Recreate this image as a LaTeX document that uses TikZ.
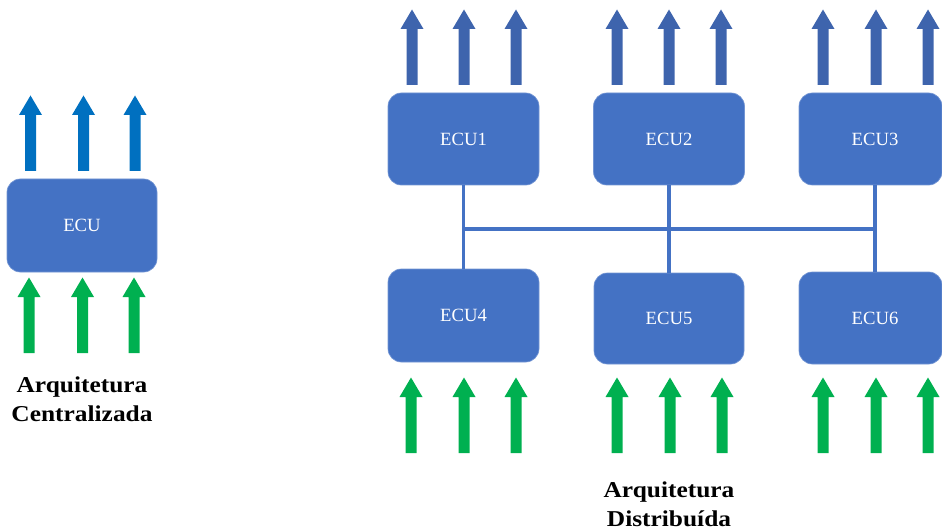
\documentclass[tikz,border=0pt]{standalone}
\usepackage{fontspec}
\setmainfont{Liberation Serif}
\newfontfamily\captionfont{Liberation Serif}[FakeStretch=1.12]
\usetikzlibrary{calc}

\definecolor{ecufill}{HTML}{4472C4}
\definecolor{outblue}{HTML}{0070C0}
\definecolor{outdark}{HTML}{3E64AD}
\definecolor{ingreen}{HTML}{00B050}

\tikzset{
  ecubox/.style={rectangle, rounded corners=10pt, fill=ecufill,
    draw=ecufill!75!white, line width=0.5pt, text=white, inner sep=0pt,
    font=\fontsize{14pt}{16pt}\selectfont},
  bus/.style={draw=ecufill, line width=2.5pt},
  caption/.style={align=center, font=\captionfont\bfseries\fontsize{17pt}{21.4pt}\selectfont},
  % block arrow: origin at the foot of the shaft, pointing up
  blockarrow/.pic={
    \fill[pic actions] (-5.5,0) -- (-5.5,-56) -- (-11.5,-56) -- (0,-75.5)
      -- (11.5,-56) -- (5.5,-56) -- (5.5,0) -- cycle;
  },
  outL/.style={fill=outblue},
  outR/.style={fill=outdark},
  inG/.style={fill=ingreen},
}

\begin{document}
\begin{tikzpicture}[x=0.75pt, y=-0.75pt]
\useasboundingbox (0,0) rectangle (942,531);

% centralised architecture
\node[ecubox, minimum width=112.5pt, minimum height=69.75pt] (ecu) at (82,225.5) {ECU};
\foreach \px [count=\i] in {30.5,83.5,135}
  \pic[outL] (cout\i) at (\px,171) {blockarrow};
\foreach \px [count=\i] in {29,82.5,134}
  \pic[inG] (cin\i) at (\px,353) {blockarrow};
\node[caption] (capC) at (82,399) {Arquitetura\\Centralizada};

% distributed architecture: upper row
\node[ecubox, minimum width=113.25pt, minimum height=69pt] (ecu1) at (463.5,139) {ECU1};
\node[ecubox, minimum width=113.25pt, minimum height=69pt] (ecu2) at (669,139) {ECU2};
\node[ecubox, minimum width=107.25pt, minimum height=69pt] (ecu3) at (870.5,139) {\hspace*{6.75pt}ECU3};

% distributed architecture: lower row
\node[ecubox, minimum width=113.25pt, minimum height=69.75pt] (ecu4) at (463.5,315.5) {ECU4};
\node[ecubox, minimum width=112.5pt, minimum height=68.25pt] (ecu5) at (669,318.5) {ECU5};
\node[ecubox, minimum width=107.25pt, minimum height=69pt] (ecu6) at (870.5,318) {\hspace*{6.75pt}ECU6};

% outputs of the upper row
\foreach \px [count=\i] in {412,464,516}
  \pic[outR] (o1\i) at (\px,85) {blockarrow};
\foreach \px [count=\i] in {617,669,721}
  \pic[outR] (o2\i) at (\px,85) {blockarrow};
\foreach \px [count=\i] in {823,876,928}
  \pic[outR] (o3\i) at (\px,85) {blockarrow};

% inputs of the lower row
\foreach \px [count=\i] in {411,464,516}
  \pic[inG] (i4\i) at (\px,453) {blockarrow};
\foreach \px [count=\i] in {617,670,722}
  \pic[inG] (i5\i) at (\px,453) {blockarrow};
\foreach \px [count=\i] in {823,876,928}
  \pic[inG] (i6\i) at (\px,453) {blockarrow};

% shared bus
\coordinate (r3) at ($(ecu3.south)+(4.5,0)$);
\coordinate (r6) at ($(ecu6.north)+(4.5,0)$);
\coordinate (busR) at (r3 |- 0,229);
\draw[bus] (ecu1.south) -- (ecu4.north);
\draw[bus] (ecu2.south) -- (ecu2.south |- ecu5.north);
\draw[bus] (r3) -- (r6);
\draw[bus] (ecu1.south |- busR) -- (busR);

\node[caption] (capD) at (669,504.5) {Arquitetura\\Distribuída};
\end{tikzpicture}
\end{document}
